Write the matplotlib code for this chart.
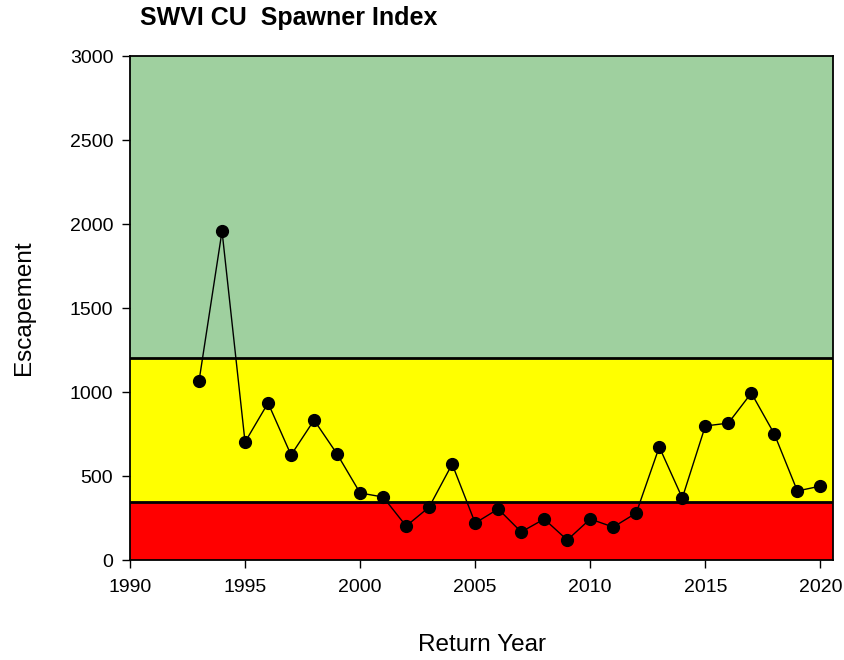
import matplotlib.pyplot as plt

plt.rcParams['font.family'] = ['Liberation Sans', 'DejaVu Sans']

# Escapement by return year
years = [1993, 1994, 1995, 1996, 1997, 1998, 1999, 2000, 2001, 2002,
         2003, 2004, 2005, 2006, 2007, 2008, 2009, 2010, 2011, 2012,
         2013, 2014, 2015, 2016, 2017, 2018, 2019, 2020]
escapement = [1065, 1958, 702, 935, 625, 833, 631, 399, 375, 202,
              315, 571, 220, 304, 167, 244, 119, 244, 196, 280,
              673, 369, 798, 815, 994, 750, 411, 440]

# benchmark bands
lower_bm = 345
upper_bm = 1200
y_top = 3000

fig = plt.figure(figsize=(8.44, 6.60), dpi=100)
ax = fig.add_axes([0.154, 0.1515, 0.833, 0.7635])

ax.axhspan(upper_bm, y_top, color='#9fd09f', zorder=0)
ax.axhspan(lower_bm, upper_bm, color='#ffff00', zorder=0)
ax.axhspan(0, lower_bm, color='#ff0000', zorder=0)
ax.axhline(upper_bm, color='black', lw=2, zorder=1)
ax.axhline(lower_bm, color='black', lw=2, zorder=1)

ax.plot(years, escapement, color='black', lw=1, marker='o', markersize=8.5, zorder=3)

ax.set_xlim(1990, 2020.55)
ax.set_ylim(0, y_top)
ax.set_xticks(range(1990, 2021, 5))
ax.set_yticks(range(0, 3001, 500))
ax.tick_params(direction='out', length=6, width=1, labelsize=14)
ax.tick_params(axis='x', pad=8)
ax.tick_params(axis='y', pad=6)
for s in ax.spines.values():
    s.set_linewidth(1.3)

ax.set_xlabel('Return Year', fontsize=17.5, labelpad=27)
ax.set_ylabel('Escapement', fontsize=17.5, labelpad=25)
fig.text(0.166, 0.972, 'SWVI CU  Spawner Index', fontsize=18, fontweight='bold',
         ha='left', va='center')

plt.savefig('out.png')
